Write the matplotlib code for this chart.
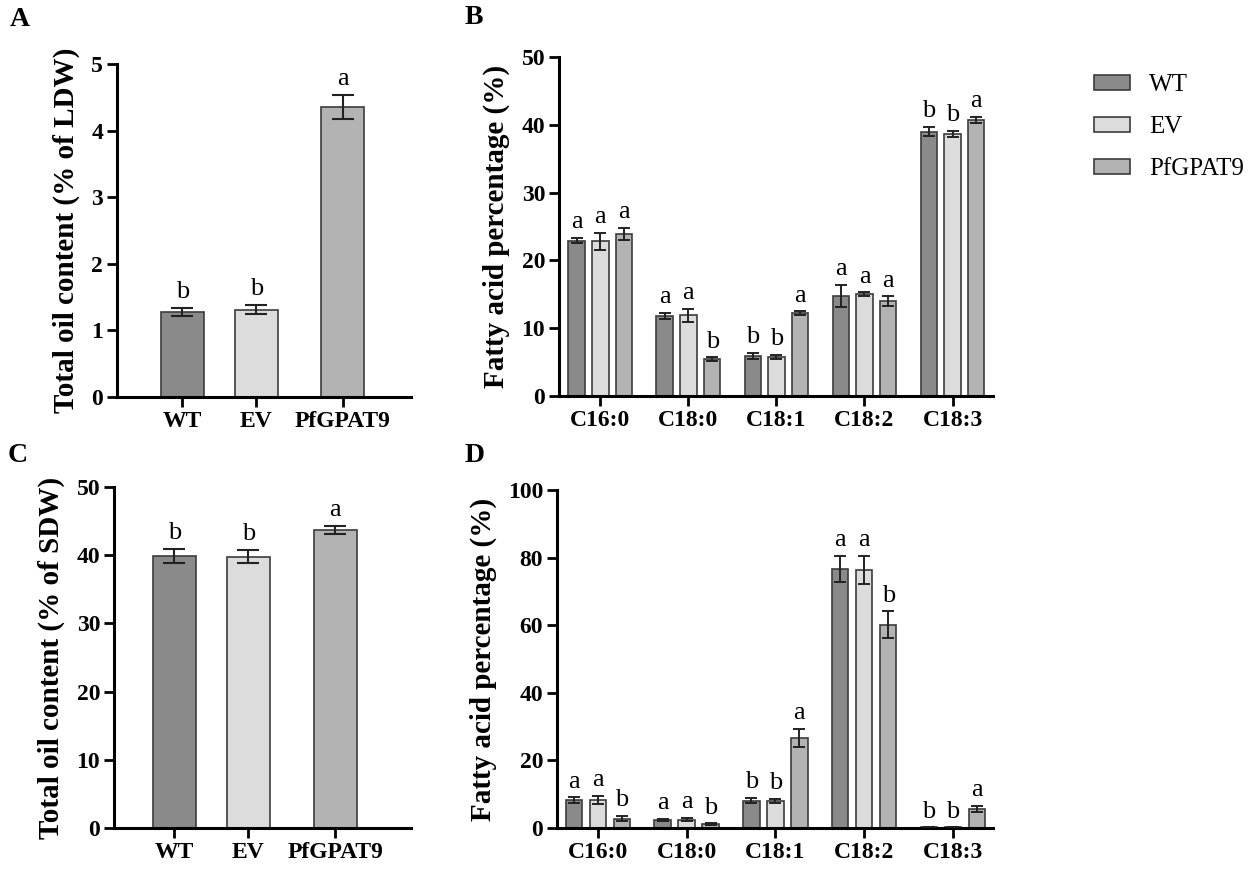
import matplotlib
matplotlib.use('Agg')
import matplotlib.pyplot as plt
import numpy as np
from matplotlib.patches import Patch

plt.rcParams['font.family'] = ['Liberation Serif', 'DejaVu Serif']

# --- data ---
lines = ['WT', 'EV', 'PfGPAT9']
colors = ['#8a8a8a', '#dcdcdc', '#b3b3b3']
edge = '#3c3c3c'

leaf_oil = [1.28, 1.31, 4.35]
leaf_oil_err = [0.06, 0.07, 0.18]
leaf_oil_sig = ['b', 'b', 'a']

seed_oil = [39.9, 39.8, 43.7]
seed_oil_err = [1.0, 0.9, 0.6]
seed_oil_sig = ['b', 'b', 'a']

fatty_acids = ['C16:0', 'C18:0', 'C18:1', 'C18:2', 'C18:3']

leaf_fa = {
    'WT': [22.9, 11.8, 5.9, 14.8, 39.0],
    'EV': [22.8, 11.9, 5.8, 15.0, 38.7],
    'PfGPAT9': [23.9, 5.4, 12.2, 14.0, 40.7],
}
leaf_fa_err = {
    'WT': [0.4, 0.5, 0.5, 1.6, 0.7],
    'EV': [1.3, 1.0, 0.3, 0.3, 0.45],
    'PfGPAT9': [0.9, 0.3, 0.3, 0.7, 0.5],
}
leaf_fa_sig = {
    'WT': ['a', 'a', 'b', 'a', 'b'],
    'EV': ['a', 'a', 'b', 'a', 'b'],
    'PfGPAT9': ['a', 'b', 'a', 'a', 'a'],
}

seed_fa = {
    'WT': [8.2, 2.3, 8.1, 76.7, 0.2],
    'EV': [8.4, 2.5, 8.1, 76.4, 0.2],
    'PfGPAT9': [2.8, 1.1, 26.7, 60.1, 5.7],
}
seed_fa_err = {
    'WT': [0.9, 0.3, 0.8, 3.9, 0.0],
    'EV': [1.2, 0.5, 0.6, 4.1, 0.0],
    'PfGPAT9': [0.7, 0.3, 2.7, 4.0, 0.9],
}
seed_fa_sig = {
    'WT': ['a', 'a', 'b', 'a', 'b'],
    'EV': ['a', 'a', 'b', 'a', 'b'],
    'PfGPAT9': ['b', 'b', 'a', 'b', 'a'],
}

W, H = 1254, 876
fig = plt.figure(figsize=(W / 100, H / 100), dpi=100)


def px_axes(left, top, right, bottom):
    return fig.add_axes([left / W, 1 - bottom / H, (right - left) / W, (bottom - top) / H])


def style(ax, ymax, step, ylabel, xlabels, xpos):
    for s in ['top', 'right']:
        ax.spines[s].set_visible(False)
    for s in ['left', 'bottom']:
        ax.spines[s].set_linewidth(2.2)
    ax.set_ylim(0, ymax)
    ax.set_yticks(np.arange(0, ymax + step / 2, step))
    ax.set_xticks(xpos)
    ax.set_xticklabels(xlabels, fontweight='bold', fontsize=17)
    ax.tick_params(axis='both', direction='out', length=7, width=2, labelsize=17, pad=3)
    for lab in ax.get_yticklabels():
        lab.set_fontweight('bold')
    ax.set_ylabel(ylabel, fontweight='bold', fontsize=21, labelpad=8)


def oil_panel(ax, vals, errs, sig, ymax, step, ylabel, xlim):
    xpos = [0, 1, 2.17]
    ax.bar(xpos, vals, width=0.58, color=colors, edgecolor=edge, linewidth=1.2, zorder=2)
    ax.errorbar(xpos, vals, yerr=errs, fmt='none', ecolor='#222222', elinewidth=1.5,
                capsize=8, capthick=1.5, zorder=3)
    for x, v, e, s in zip(xpos, vals, errs, sig):
        ax.text(x, v + e + ymax * 0.015, s, ha='center', va='bottom', fontsize=19)
    ax.set_xlim(*xlim)
    style(ax, ymax, step, ylabel, lines, xpos)


def fa_panel(ax, data, errs, sigs, ymax, step, xlim):
    x = np.arange(len(fatty_acids))
    offs = [-0.27, 0, 0.27]
    for k, name in enumerate(lines):
        ax.bar(x + offs[k], data[name], width=0.185, color=colors[k], edgecolor=edge,
               linewidth=1.2, zorder=2)
        ax.errorbar(x + offs[k], data[name], yerr=errs[name], fmt='none', ecolor='#222222',
                    elinewidth=1.4, capsize=4, capthick=1.4, zorder=3)
        for xi, v, e, s in zip(x + offs[k], data[name], errs[name], sigs[name]):
            ax.text(xi, v + e + ymax * 0.014, s, ha='center', va='bottom', fontsize=19)
    ax.set_xlim(*xlim)
    style(ax, ymax, step, 'Fatty acid percentage (%)', fatty_acids, x)


axA = px_axes(117, 64, 411, 397)
oil_panel(axA, leaf_oil, leaf_oil_err, leaf_oil_sig, 5, 1, 'Total oil content (% of LDW)', (-0.88, 3.09))

axB = px_axes(559, 57, 993, 396)
fa_panel(axB, leaf_fa, leaf_fa_err, leaf_fa_sig, 50, 10, (-0.47, 4.46))

axC = px_axes(114, 487, 411, 828)
oil_panel(axC, seed_oil, seed_oil_err, seed_oil_sig, 50, 10, 'Total oil content (% of SDW)', (-0.81, 3.19))

axD = px_axes(557, 490, 993, 828)
fa_panel(axD, seed_fa, seed_fa_err, seed_fa_sig, 100, 20, (-0.46, 4.45))

# panel letters
for lbl, (x, y) in zip('ABCD', [(10, 20), (465, 18), (8, 456), (465, 456)]):
    fig.text(x / W, 1 - y / H, lbl, fontsize=20, fontweight='bold', va='center', ha='left')

# legend
handles = [Patch(facecolor=c, edgecolor=edge, linewidth=1.2) for c in colors]
fig.legend(handles, lines, loc='upper left', bbox_to_anchor=(1084 / W, 1 - 64 / H),
           frameon=False, fontsize=18, handlelength=1.45, handleheight=0.55,
           labelspacing=0.8, handletextpad=0.75, borderaxespad=0)

fig.savefig('out.png', dpi=100)
